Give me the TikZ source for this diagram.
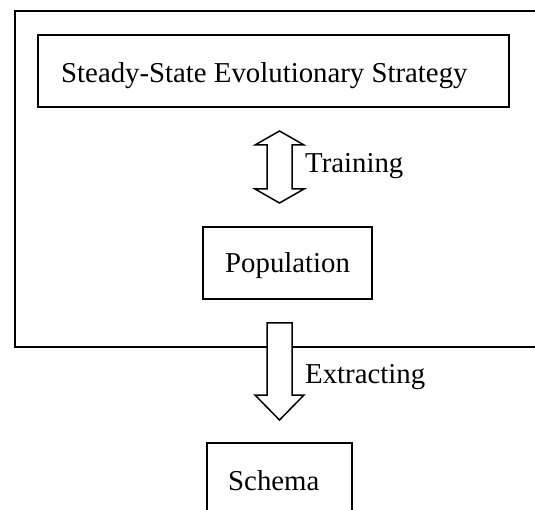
\documentclass[tikz,border=0pt]{standalone}
\usepackage{fontspec}
\setmainfont{Liberation Serif}
\begin{document}
\begin{tikzpicture}[x=1pt,y=-1pt,
  box/.style={draw, line width=1.5pt, inner sep=0pt, outer sep=0pt},
  lbl/.style={anchor=base west, inner sep=0pt, font=\fontsize{28.8}{34}\selectfont},
  blockarrow/.style={draw, fill=white, line width=1.5pt, line join=miter}]
\useasboundingbox (0,0) rectangle (535,510);
\clip (0,0) rectangle (535,510);
% outer container
\node[box, minimum width=540pt, minimum height=336pt] (outer) at (285,179) {};
% boxes
\node[box, minimum width=471pt, minimum height=72pt] (ses) at (273.5,71) {};
\node[box, minimum width=169pt, minimum height=72pt] (pop) at (287.5,263) {};
\node[box, minimum width=145pt, minimum height=72pt] (sch) at (279.5,479) {};
% labels
\node[lbl] (t1) at (61,83) {Steady-State Evolutionary Strategy};
\node[lbl] (t2) at (225,273) {Population};
\node[lbl] (t5) at (228,490) {Schema};
\node[lbl] (t3) at (305,173) {Training};
\node[lbl] (t4) at (305,383) {Extracting};
% double block arrow (Training)
\draw[blockarrow] (279.5,131) -- (304,145) -- (292,145) -- (292,189) -- (304,189)
  -- (279.5,203) -- (255,189) -- (267,189) -- (267,145) -- (255,145) -- cycle;
% single block arrow (Extracting)
\draw[blockarrow] (267,323) -- (292,323) -- (292,395) -- (304,395)
  -- (279.5,420) -- (255,395) -- (267,395) -- cycle;
\end{tikzpicture}
\end{document}
